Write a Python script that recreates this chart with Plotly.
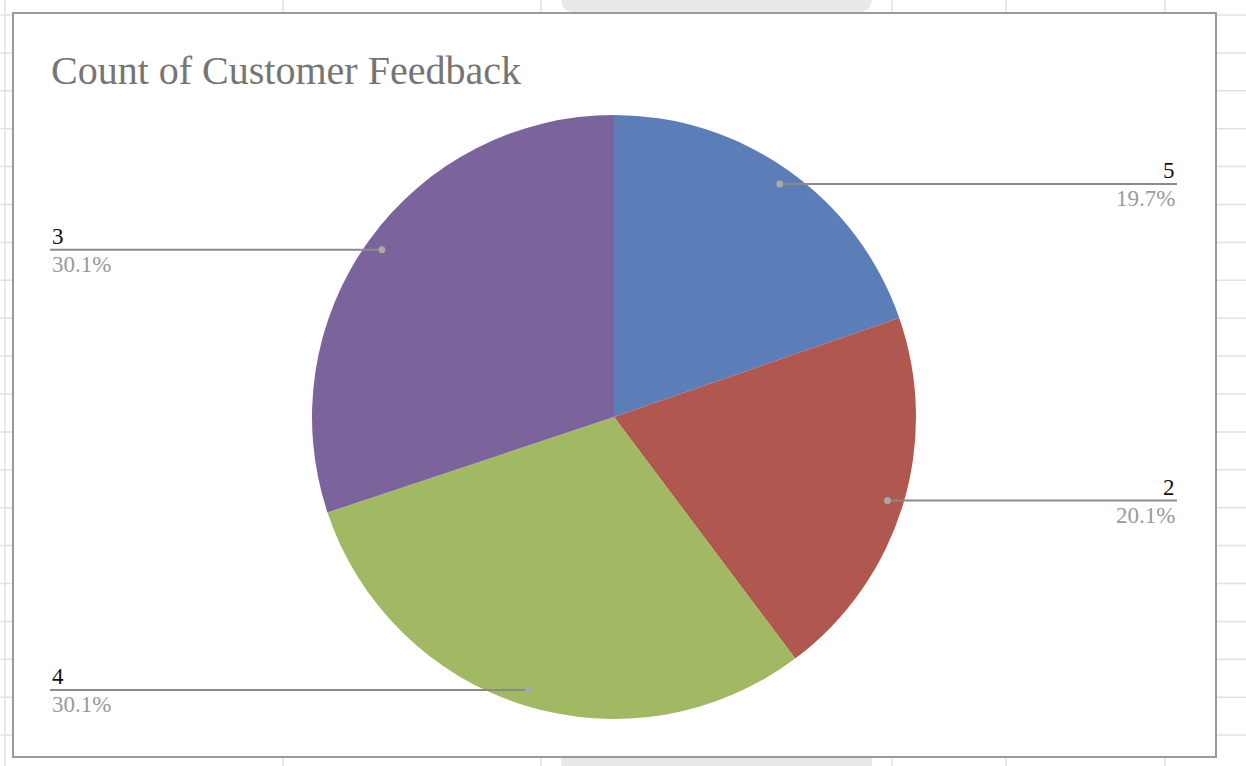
import math
import plotly.graph_objects as go

# ---- data ----
categories = ["5", "2", "4", "3"]
counts = [49, 50, 75, 75]
colors = ["#5B7EB9", "#B0574F", "#A1B963", "#7B649B"]
title_text = "Count of Customer Feedback"

W, H = 1246, 766
# pie geometry (pixels)
CX, CY, R = 614, 417, 302


def px(x):
    return x / W


def py(y):
    return 1 - y / H


fig = go.Figure()
fig.add_trace(go.Pie(
    labels=categories,
    values=counts,
    sort=False,
    direction="clockwise",
    rotation=0,
    marker=dict(colors=colors, line=dict(width=0)),
    textinfo="none",
    hoverinfo="label+percent",
    showlegend=False,
    domain=dict(x=[px(CX - R), px(CX + R)], y=[py(CY + R), py(CY - R)]),
))


def rounded_tab(x0, x1, y0, y1, r, round_bottom):
    # path in paper coordinates; rounded corners on the side facing the chart
    X0, X1 = px(x0), px(x1)
    rx = r / W
    ry = r / H
    Yt, Yb = py(y0), py(y1)
    if round_bottom:
        return (f"M {X0},{Yt} L {X0},{Yb + ry} Q {X0},{Yb} {X0 + rx},{Yb} "
                f"L {X1 - rx},{Yb} Q {X1},{Yb} {X1},{Yb + ry} L {X1},{Yt} Z")
    return (f"M {X0},{Yb} L {X0},{Yt - ry} Q {X0},{Yt} {X0 + rx},{Yt} "
            f"L {X1 - rx},{Yt} Q {X1},{Yt} {X1},{Yt - ry} L {X1},{Yb} Z")


shapes = []
# spreadsheet grid background
for k in range(20):
    y = 15 + 37.9 * k
    shapes.append(dict(type="line", xref="paper", yref="paper", x0=0, x1=1,
                       y0=py(y), y1=py(y), line=dict(color="#E2E2E2", width=1.5),
                       layer="below"))
for x in [5, 283, 541, 892, 1006, 1165]:
    shapes.append(dict(type="line", xref="paper", yref="paper", x0=px(x), x1=px(x),
                       y0=0, y1=1, line=dict(color="#E2E2E2", width=1.5), layer="below"))
# grey rounded tabs peeking above / below the chart box
shapes.append(dict(type="path", xref="paper", yref="paper",
                   path=rounded_tab(561, 872, -20, 12, 14, True),
                   fillcolor="#E8E9EB", line=dict(width=0), layer="below"))
shapes.append(dict(type="path", xref="paper", yref="paper",
                   path=rounded_tab(561, 872, 740, 790, 14, False),
                   fillcolor="#E8E9EB", line=dict(width=0), layer="below"))
# chart box
shapes.append(dict(type="rect", xref="paper", yref="paper", x0=px(13), x1=px(1216),
                   y0=py(757), y1=py(13), fillcolor="white",
                   line=dict(color="#9A9A9A", width=2), layer="below"))

annotations = [dict(
    text=title_text, xref="paper", yref="paper", x=px(49), y=py(70),
    xanchor="left", yanchor="middle", showarrow=False,
    font=dict(family="Liberation Serif", size=40, color="#757575"),
)]

total = sum(counts)
cum = 0
for cat, v in zip(categories, counts):
    frac = v / total
    mid = (cum + frac / 2) * 2 * math.pi
    cum += frac
    dx = math.sin(mid) * R * 0.947
    dy = -math.cos(mid) * R * 0.947
    dotx, doty = CX + dx, CY + dy
    right = dx > 0
    endx = 1177 if right else 50
    shapes.append(dict(type="line", xref="paper", yref="paper",
                       x0=px(dotx), x1=px(endx), y0=py(doty), y1=py(doty),
                       line=dict(color="#8A8A8A", width=2), layer="above"))
    shapes.append(dict(type="circle", xref="paper", yref="paper",
                       x0=px(dotx - 3.5), x1=px(dotx + 3.5),
                       y0=py(doty + 3.5), y1=py(doty - 3.5),
                       fillcolor="#A8A8A8", line=dict(width=0), layer="above"))
    anchor = "right" if right else "left"
    annotations.append(dict(
        text=cat, xref="paper", yref="paper", x=px(endx), y=py(doty - 13),
        xanchor=anchor, yanchor="middle", showarrow=False,
        font=dict(family="Liberation Serif", size=23, color="#111111"),
    ))
    annotations.append(dict(
        text=f"{frac * 100:.1f}%", xref="paper", yref="paper", x=px(endx), y=py(doty + 15),
        xanchor=anchor, yanchor="middle", showarrow=False,
        font=dict(family="Liberation Serif", size=23, color="#9A9A9A"),
    ))

fig.update_layout(
    width=W, height=H, autosize=False,
    margin=dict(l=0, r=0, t=0, b=0),
    paper_bgcolor="white",
    shapes=shapes,
    annotations=annotations,
)

fig.write_html("out.html", config={"displayModeBar": False},
               post_script="document.body.style.margin='0';")
